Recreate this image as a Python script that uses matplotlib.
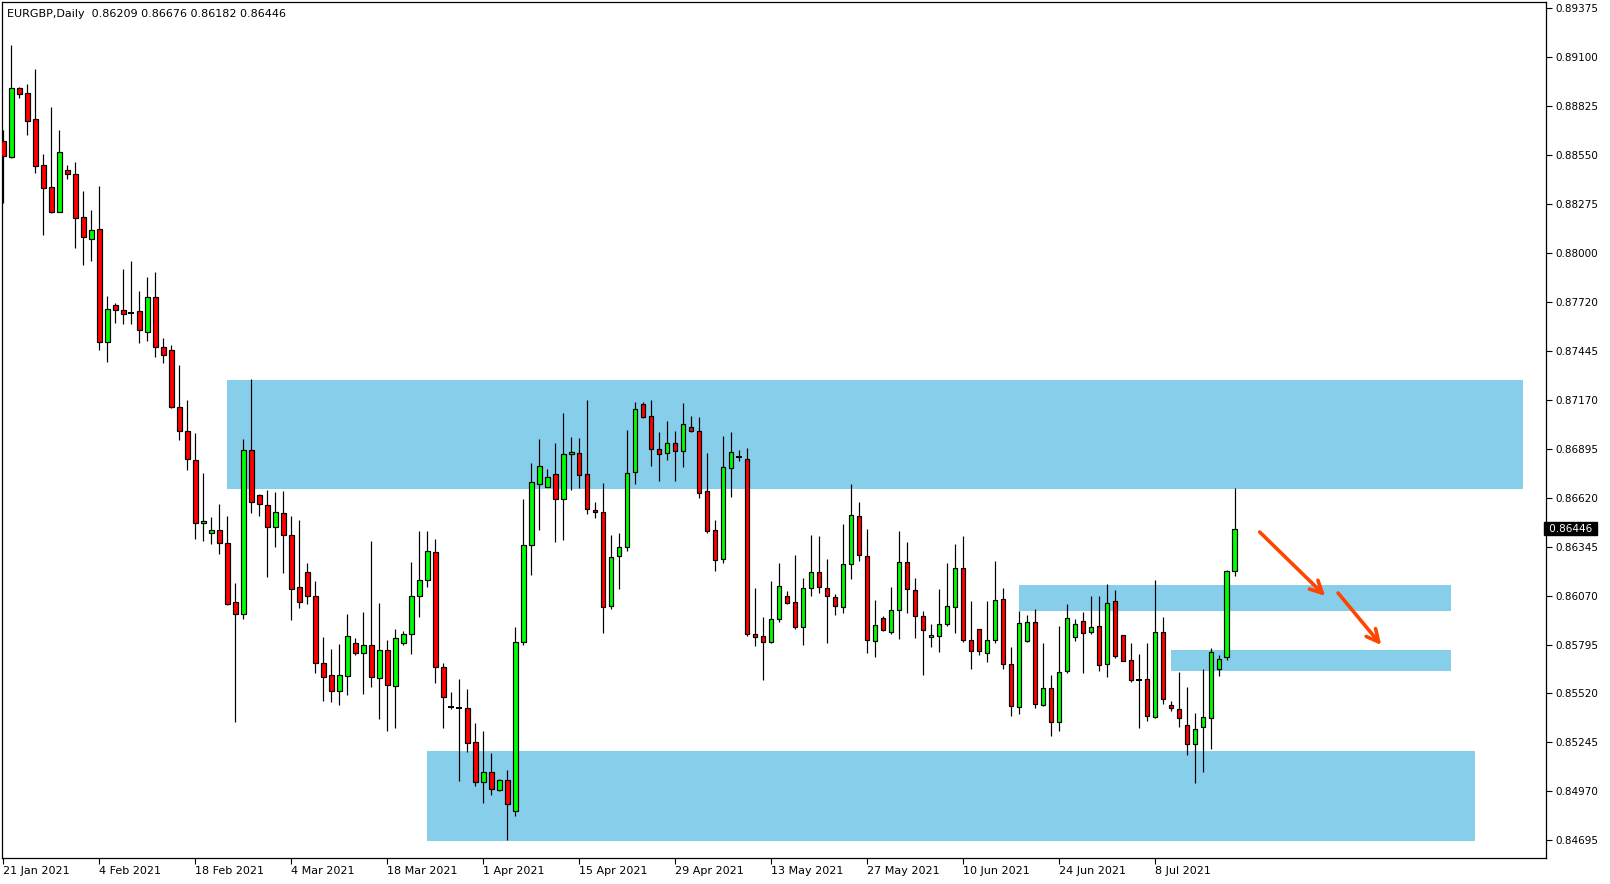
import matplotlib
matplotlib.use("Agg")
import matplotlib.pyplot as plt
from matplotlib.patches import Rectangle

# EURGBP daily candles (bar index 0 = 21 Jan 2021)
opens = [0.88626, 0.88539, 0.88924, 0.88896, 0.88750, 0.88491, 0.88367, 0.88230, 0.88463, 0.88440,
         0.88198, 0.88078, 0.88131, 0.87499, 0.87703, 0.87675, 0.87660, 0.87670, 0.87555, 0.87748,
         0.87469, 0.87452, 0.87130, 0.86995, 0.86831, 0.86477, 0.86421, 0.86438, 0.86366, 0.86033,
         0.85965, 0.86889, 0.86634, 0.86578, 0.86454, 0.86533, 0.86409, 0.86117, 0.86201, 0.86066,
         0.85689, 0.85622, 0.85532, 0.85616, 0.85802, 0.85746, 0.85791, 0.85605, 0.85762, 0.85560,
         0.85802, 0.85852, 0.86066, 0.86156, 0.86314, 0.85667, 0.85445, 0.85440, 0.85436, 0.85245,
         0.85023, 0.85076, 0.84978, 0.85031, 0.84860, 0.85810, 0.86353, 0.86700, 0.86683, 0.86753,
         0.86612, 0.86865, 0.86871, 0.86753, 0.86550, 0.86539, 0.86013, 0.86291, 0.86342, 0.86764,
         0.87146, 0.87079, 0.86893, 0.86871, 0.86927, 0.86882, 0.87017, 0.86995, 0.86657, 0.86438,
         0.86278, 0.86790, 0.86852, 0.86837, 0.85852, 0.85841, 0.85807, 0.85937, 0.86066, 0.86033,
         0.85892, 0.86111, 0.86201, 0.86111, 0.86061, 0.86004, 0.86246, 0.86516, 0.86291, 0.85813,
         0.85942, 0.85867, 0.85987, 0.86258, 0.86100, 0.85954, 0.85836, 0.85841, 0.85909, 0.86004,
         0.86224, 0.85819, 0.85881, 0.85746, 0.85819, 0.86049, 0.85684, 0.85442, 0.85813, 0.85920,
         0.85453, 0.85549, 0.85361, 0.85644, 0.85836, 0.85926, 0.85864, 0.85897, 0.85684, 0.86038,
         0.85847, 0.85706, 0.85597, 0.85599, 0.85386, 0.85864, 0.85453, 0.85430, 0.85340, 0.85233,
         0.85329, 0.85380, 0.85656, 0.85725, 0.86209]
highs = [0.88690, 0.89168, 0.88930, 0.88948, 0.89033, 0.88555, 0.88819, 0.88690, 0.88493, 0.88510,
         0.88346, 0.88240, 0.88376, 0.87756, 0.87718, 0.87908, 0.87953, 0.87784, 0.87863, 0.87891,
         0.87519, 0.87480, 0.87368, 0.87171, 0.86983, 0.86758, 0.86512, 0.86585, 0.86518, 0.86141,
         0.86951, 0.87289, 0.86640, 0.86664, 0.86653, 0.86659, 0.86518, 0.86495, 0.86254, 0.86152,
         0.85837, 0.85770, 0.85798, 0.85967, 0.85830, 0.85978, 0.86377, 0.86029, 0.85820, 0.85882,
         0.85871, 0.86259, 0.86434, 0.86434, 0.86389, 0.85689, 0.85526, 0.85601, 0.85545, 0.85353,
         0.85308, 0.85185, 0.85040, 0.85089, 0.85894, 0.86614, 0.86816, 0.86951, 0.86782, 0.86929,
         0.87098, 0.86962, 0.86957, 0.87171, 0.86597, 0.86704, 0.86411, 0.86422, 0.87002, 0.87159,
         0.87159, 0.87171, 0.86991, 0.87053, 0.86996, 0.87154, 0.87081, 0.87075, 0.86872, 0.86495,
         0.86968, 0.86991, 0.86889, 0.86901, 0.86113, 0.85950, 0.86152, 0.86254, 0.86096, 0.86299,
         0.86169, 0.86411, 0.86405, 0.86276, 0.86079, 0.86473, 0.86698, 0.86597, 0.86445, 0.86046,
         0.85954, 0.86119, 0.86434, 0.86372, 0.86169, 0.85983, 0.85910, 0.86107, 0.86254, 0.86360,
         0.86405, 0.86040, 0.85881, 0.86040, 0.86265, 0.86111, 0.85781, 0.85983, 0.85959, 0.85993,
         0.85802, 0.85623, 0.85899, 0.86023, 0.85939, 0.85978, 0.86068, 0.86068, 0.86135, 0.86102,
         0.85847, 0.85803, 0.85742, 0.85803, 0.86158, 0.85950, 0.85477, 0.85640, 0.85556, 0.85410,
         0.85657, 0.85775, 0.85736, 0.86214, 0.86676]
lows = [0.88281, 0.88535, 0.88871, 0.88662, 0.88449, 0.88101, 0.88224, 0.88226, 0.88416, 0.88027,
        0.87932, 0.87954, 0.87452, 0.87384, 0.87606, 0.87598, 0.87598, 0.87493, 0.87504, 0.87414,
        0.87379, 0.87126, 0.86946, 0.86777, 0.86389, 0.86377, 0.86362, 0.86306, 0.86020, 0.85359,
        0.85940, 0.86537, 0.86520, 0.86177, 0.86345, 0.86199, 0.85935, 0.86002, 0.86025, 0.85636,
        0.85479, 0.85473, 0.85456, 0.85513, 0.85738, 0.85518, 0.85558, 0.85378, 0.85310, 0.85327,
        0.85794, 0.85743, 0.85951, 0.86120, 0.85580, 0.85327, 0.85434, 0.85029, 0.85192, 0.85001,
        0.84905, 0.84950, 0.84972, 0.84695, 0.84832, 0.85794, 0.86188, 0.86441, 0.86680, 0.86373,
        0.86385, 0.86666, 0.86677, 0.86531, 0.86508, 0.85861, 0.85996, 0.86109, 0.86323, 0.86700,
        0.87071, 0.86801, 0.86717, 0.86835, 0.86717, 0.86795, 0.86993, 0.86621, 0.86424, 0.86210,
        0.86255, 0.86627, 0.86829, 0.85841, 0.85788, 0.85597, 0.85805, 0.85923, 0.86025, 0.85884,
        0.85794, 0.86070, 0.86086, 0.85805, 0.85963, 0.85974, 0.86165, 0.86266, 0.85749, 0.85726,
        0.85873, 0.85856, 0.85828, 0.85974, 0.85833, 0.85625, 0.85783, 0.85755, 0.85901, 0.85861,
        0.85811, 0.85659, 0.85738, 0.85698, 0.85805, 0.85659, 0.85394, 0.85406, 0.85811, 0.85440,
        0.85450, 0.85280, 0.85308, 0.85633, 0.85816, 0.85636, 0.85852, 0.85648, 0.85614, 0.85721,
        0.85700, 0.85586, 0.85328, 0.85366, 0.85383, 0.85462, 0.85423, 0.85333, 0.85175, 0.85015,
        0.85079, 0.85209, 0.85620, 0.85708, 0.86182]
closes = [0.88545, 0.88924, 0.88894, 0.88742, 0.88489, 0.88365, 0.88230, 0.88564, 0.88440, 0.88196,
          0.88086, 0.88125, 0.87499, 0.87681, 0.87675, 0.87656, 0.87660, 0.87563, 0.87748, 0.87467,
          0.87424, 0.87131, 0.86998, 0.86837, 0.86477, 0.86488, 0.86438, 0.86364, 0.86025, 0.85965,
          0.86889, 0.86598, 0.86584, 0.86454, 0.86539, 0.86409, 0.86106, 0.86033, 0.86066, 0.85689,
          0.85611, 0.85532, 0.85622, 0.85841, 0.85746, 0.85791, 0.85611, 0.85762, 0.85566, 0.85830,
          0.85852, 0.86066, 0.86156, 0.86319, 0.85667, 0.85498, 0.85445, 0.85440, 0.85239, 0.85023,
          0.85076, 0.84984, 0.85031, 0.84899, 0.85807, 0.86353, 0.86708, 0.86798, 0.86736, 0.86612,
          0.86865, 0.86876, 0.86750, 0.86556, 0.86539, 0.86008, 0.86286, 0.86342, 0.86758, 0.87118,
          0.87077, 0.86893, 0.86865, 0.86927, 0.86882, 0.87034, 0.86995, 0.86649, 0.86435, 0.86272,
          0.86792, 0.86876, 0.86852, 0.85852, 0.85839, 0.85807, 0.85937, 0.86123, 0.86027, 0.85892,
          0.86111, 0.86201, 0.86117, 0.86066, 0.86010, 0.86246, 0.86522, 0.86297, 0.85822, 0.85903,
          0.85875, 0.85987, 0.86258, 0.86106, 0.85954, 0.85875, 0.85847, 0.85909, 0.86010, 0.86224,
          0.85819, 0.85757, 0.85757, 0.85819, 0.86044, 0.85684, 0.85447, 0.85914, 0.85920, 0.85459,
          0.85549, 0.85361, 0.85639, 0.85942, 0.85909, 0.85858, 0.85892, 0.85678, 0.86027, 0.85732,
          0.85701, 0.85594, 0.85597, 0.85391, 0.85864, 0.85490, 0.85436, 0.85380, 0.85233, 0.85318,
          0.85385, 0.85751, 0.85712, 0.86209, 0.86446]

date_labels = ["21 Jan 2021", "4 Feb 2021", "18 Feb 2021", "4 Mar 2021", "18 Mar 2021",
               "1 Apr 2021", "15 Apr 2021", "29 Apr 2021", "13 May 2021", "27 May 2021",
               "10 Jun 2021", "24 Jun 2021", "8 Jul 2021"]
date_bars = [0, 12, 24, 36, 48, 60, 72, 84, 96, 108, 120, 132, 144]

price_ticks = [0.89375, 0.89100, 0.88825, 0.88550, 0.88275, 0.88000, 0.87720, 0.87445, 0.87170,
               0.86895, 0.86620, 0.86345, 0.86070, 0.85795, 0.85520, 0.85245, 0.84970, 0.84695]

# zones: (first bar, last bar, bottom price, top price)
zones = [
    (28, 190, 0.86672, 0.87283),
    (127, 181, 0.85985, 0.86130),
    (146, 181, 0.85648, 0.85764),
    (53, 184, 0.84690, 0.85196),
]

# arrows: (start bar, start price, end bar, end price)
arrows = [
    (157.1, 0.86428, 165.3, 0.86068),
    (166.9, 0.86085, 172.3, 0.85792),
]

last_price = 0.86446

W, H = 1610, 884
fig = plt.figure(figsize=(W / 100, H / 100), dpi=100)
ax = fig.add_axes([2 / W, 1 - 858 / H, 1544 / W, 856 / H])
ax.set_xlim(-0.16, 192.9)
ax.set_ylim(0.84594, 0.89410)

px = 0.72  # one pixel in points

for x0, x1, y0, y1 in zones:
    ax.add_patch(Rectangle((x0, y0), x1 - x0, y1 - y0, facecolor="#87CEEB",
                           edgecolor="none", zorder=0))

body_w = 0.6
for i in range(len(opens)):
    o, h, l, c = opens[i], highs[i], lows[i], closes[i]
    ax.vlines(i, l, h, color="black", linewidth=px * 1.2, zorder=2)
    if abs(c - o) < 1e-6:
        ax.hlines(o, i - 0.35, i + 0.35, color="black", linewidth=px * 2, zorder=3)
        continue
    face = "#00FF00" if c > o else "#FF0000"
    ax.add_patch(Rectangle((i - body_w / 2, min(o, c)), body_w, abs(c - o),
                           facecolor=face, edgecolor="black", linewidth=px * 1.2,
                           zorder=3))

for sx, sy, ex, ey in arrows:
    ax.annotate("", xy=(ex, ey), xytext=(sx, sy),
                arrowprops=dict(arrowstyle="->", color="#FF4500", lw=2.6,
                                mutation_scale=22, shrinkA=0, shrinkB=0),
                zorder=4)

ax.yaxis.tick_right()
ax.set_yticks(price_ticks)
ax.set_yticklabels([f"{p:.5f}" for p in price_ticks])
ax.set_xticks(date_bars)
ax.set_xticklabels(date_labels, ha="left")
ax.tick_params(axis="y", direction="out", length=4, width=0.8, labelsize=7.5, pad=3)
ax.tick_params(axis="x", direction="out", length=4, width=0.8, labelsize=8, pad=2)

for spine in ax.spines.values():
    spine.set_linewidth(0.9)
    spine.set_color("black")

ax.text(1.0, last_price, f" {last_price:.5f} ", transform=ax.get_yaxis_transform(),
        ha="left", va="center", color="white", fontsize=7.5,
        bbox=dict(facecolor="black", edgecolor="black", pad=1.2), zorder=5, clip_on=False)

fig.text(7 / W, 1 - 14 / H, "EURGBP,Daily  0.86209 0.86676 0.86182 0.86446",
         fontsize=8, va="center", ha="left")

fig.savefig("out.png", dpi=100, facecolor="white")
